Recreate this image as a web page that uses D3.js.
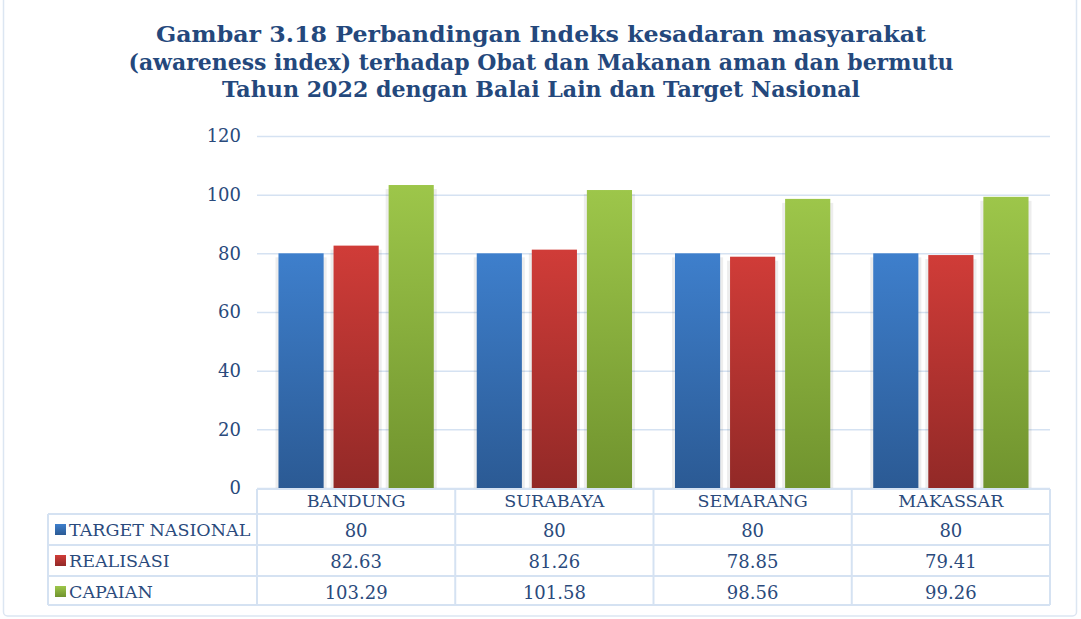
<!DOCTYPE html>
<html>
<head>
<meta charset="utf-8">
<script src="https://cdn.jsdelivr.net/npm/d3@7"></script>
<style>
  body { margin: 0; background: #fff; }
  svg { display: block; }
</style>
</head>
<body>
<svg width="1081" height="619"></svg>
<script>
// data ************************************************************
var titleLines = [
    'Gambar 3.18 Perbandingan Indeks kesadaran masyarakat',
    '(awareness index) terhadap Obat dan Makanan aman dan bermutu',
    'Tahun 2022 dengan Balai Lain dan Target Nasional'
];
var categories = ['BANDUNG', 'SURABAYA', 'SEMARANG', 'MAKASSAR'];
var seriesNames = ['TARGET NASIONAL', 'REALISASI', 'CAPAIAN'];
var targetNasional = [80, 80, 80, 80];
var realisasi = [82.63, 81.26, 78.85, 79.41];
var capaian = [103.29, 101.58, 98.56, 99.26];
var tableLabels = [
    ['80', '80', '80', '80'],
    ['82.63', '81.26', '78.85', '79.41'],
    ['103.29', '101.58', '98.56', '99.26']
];
var yTicks = [0, 20, 40, 60, 80, 100, 120];

var seriesValues = [targetNasional, realisasi, capaian];
var colors = [
    { top: '#3e7fcc', bottom: '#2b5a94' },
    { top: '#d03c38', bottom: '#922927' },
    { top: '#9dc64a', bottom: '#70932e' }
];
var textColor = '#2a4a7c';
var lineColor = '#d5e2f2';

var svg = d3.select('svg');

// frame
svg.append('rect')
    .attr('x', 3.5).attr('y', -10)
    .attr('width', 1073).attr('height', 626)
    .attr('rx', 4)
    .attr('fill', 'none')
    .attr('stroke', '#dce6f2')
    .attr('stroke-width', 1.5);

// title
var titleWidths = [770, 825, 638];
svg.append('g').selectAll('text')
    .data(titleLines)
    .enter().append('text')
    .attr('x', 541)
    .attr('y', (d, i) => 42 + i * 27.5)
    .attr('text-anchor', 'middle')
    .attr('textLength', (d, i) => titleWidths[i])
    .attr('lengthAdjust', 'spacingAndGlyphs')
    .attr('font-family', 'DejaVu Serif')
    .attr('font-weight', 'bold')
    .attr('font-size', 22)
    .attr('fill', '#24487c')
    .text(d => d);

// scales
var x = d3.scaleBand()
    .domain(categories)
    .range([257, 1050]);

var xs = d3.scaleBand()
    .domain(seriesNames)
    .range([0, x.bandwidth()])
    .paddingInner(0.18)
    .paddingOuter(0.39);

var y = d3.scaleLinear()
    .domain([0, 120])
    .range([488, 136]);

// gradients
var defs = svg.append('defs');
colors.forEach((c, i) => {
    var g = defs.append('linearGradient')
        .attr('id', 'grad' + i)
        .attr('x1', 0).attr('y1', 0).attr('x2', 0).attr('y2', 1);
    g.append('stop').attr('offset', '0%').attr('stop-color', c.top);
    g.append('stop').attr('offset', '100%').attr('stop-color', c.bottom);
});

// grid + y axis
var yAxis = svg.append('g')
    .attr('transform', 'translate(257,0)')
    .call(d3.axisLeft(y).tickValues(yTicks).tickSize(-793).tickPadding(16));
yAxis.select('.domain').remove();
yAxis.selectAll('.tick line')
    .attr('stroke', lineColor)
    .attr('stroke-width', 1.5);
yAxis.selectAll('.tick text')
    .attr('font-family', 'DejaVu Serif')
    .attr('font-size', 18)
    .attr('fill', textColor);

// bars
var groups = svg.append('g').selectAll('g')
    .data(categories)
    .enter().append('g')
    .attr('transform', d => `translate(${x(d)},0)`);

groups.selectAll('rect.shadow')
    .data((d, ci) => seriesNames.map((s, si) => ({ s, si, v: seriesValues[si][ci] })))
    .enter().append('rect')
    .attr('class', 'shadow')
    .attr('x', d => xs(d.s) - 3)
    .attr('y', d => y(d.v) + 4)
    .attr('width', xs.bandwidth() + 6)
    .attr('height', d => y(0) - y(d.v) - 2)
    .attr('fill', '#000')
    .attr('opacity', 0.07);

groups.selectAll('rect.bar')
    .data((d, ci) => seriesNames.map((s, si) => ({ s, si, v: seriesValues[si][ci] })))
    .enter().append('rect')
    .attr('class', 'bar')
    .attr('x', d => xs(d.s))
    .attr('y', d => y(d.v))
    .attr('width', xs.bandwidth())
    .attr('height', d => y(0) - y(d.v))
    .attr('fill', d => `url(#grad${d.si})`);

// data table
var rowEdges = [489, 514, 545, 576, 605];
var table = svg.append('g');

table.selectAll('line.h')
    .data(rowEdges)
    .enter().append('line')
    .attr('x1', (d, i) => i === 0 ? 257 : 48)
    .attr('x2', 1050)
    .attr('y1', d => d).attr('y2', d => d)
    .attr('stroke', lineColor)
    .attr('stroke-width', 2);

var colEdges = categories.map(c => x(c)).concat([1050]);
table.selectAll('line.v')
    .data(colEdges)
    .enter().append('line')
    .attr('x1', d => d).attr('x2', d => d)
    .attr('y1', 489).attr('y2', 605)
    .attr('stroke', lineColor)
    .attr('stroke-width', 2);
table.append('line')
    .attr('x1', 48).attr('x2', 48)
    .attr('y1', 514).attr('y2', 605)
    .attr('stroke', lineColor)
    .attr('stroke-width', 2);

table.selectAll('text.cat')
    .data(categories)
    .enter().append('text')
    .attr('x', d => x(d) + x.bandwidth() / 2)
    .attr('y', 507)
    .attr('text-anchor', 'middle')
    .attr('font-family', 'DejaVu Serif')
    .attr('font-size', 17.5)
    .attr('fill', textColor)
    .text(d => d);

var rows = table.selectAll('g.row')
    .data(seriesNames)
    .enter().append('g')
    .attr('transform', (d, i) => `translate(0,${rowEdges[i + 1]})`);

rows.append('rect')
    .attr('x', 55).attr('y', 10)
    .attr('width', 11).attr('height', 11)
    .attr('fill', (d, i) => `url(#grad${i})`);

rows.append('text')
    .attr('x', 69).attr('y', 22)
    .attr('font-family', 'DejaVu Serif')
    .attr('font-size', 17.5)
    .attr('fill', textColor)
    .text(d => d);

rows.selectAll('text.val')
    .data((d, i) => tableLabels[i])
    .enter().append('text')
    .attr('x', (d, i) => x(categories[i]) + x.bandwidth() / 2)
    .attr('y', 23)
    .attr('text-anchor', 'middle')
    .attr('font-family', 'DejaVu Serif')
    .attr('font-size', 18)
    .attr('fill', textColor)
    .text(d => d);
</script>
</body>
</html>
